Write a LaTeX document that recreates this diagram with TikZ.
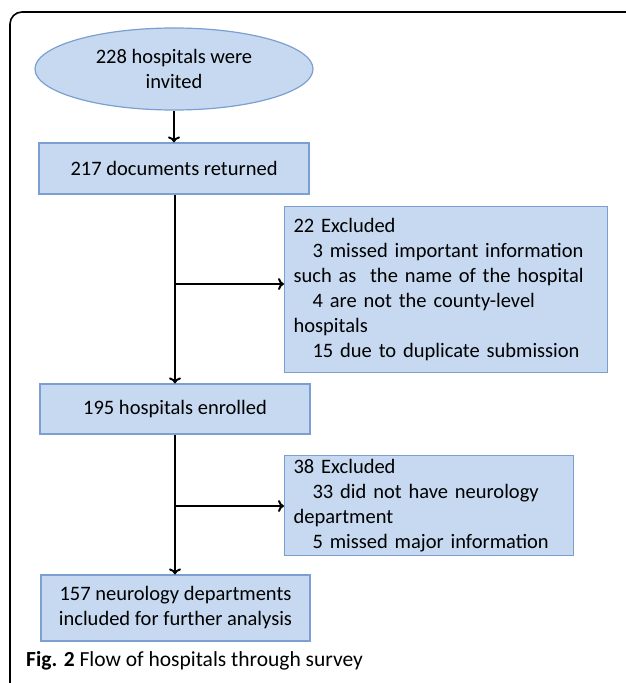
\documentclass[tikz,border=0pt]{standalone}
\usepackage{fontspec}
\setmainfont{Carlito}
\usetikzlibrary{shapes.geometric,arrows.meta}
\definecolor{boxfill}{HTML}{C6D9F0}
\definecolor{boxline}{HTML}{7A9FD0}
\begin{document}
\begin{tikzpicture}[x=1pt,y=-1pt,
  txt/.style={font=\fontsize{20.5}{25}\selectfont},
  flowbox/.style={txt,draw=boxline,fill=boxfill,line width=1.2pt,inner sep=0pt,align=center},
  sidebox/.style={txt,draw=boxline,fill=boxfill,line width=1.2pt,inner xsep=9pt,inner ysep=0pt,align=left,anchor=north west},
  conn/.style={line width=2.2pt,-{To[length=6pt,width=12pt,line width=2pt]}}]
\useasboundingbox (0,0) rectangle (625,683);
% outer frame
\draw[line width=1.6pt,rounded corners=12pt] (10,684) -- (10,12) -- (626,12);
% nodes
\node[ellipse,draw=boxline,fill=boxfill,line width=1.2pt,minimum width=278pt,minimum height=82pt,inner sep=0pt,align=center,txt] (inv) at (174,69) {228 hospitals were\\invited};
\node[flowbox,minimum width=270pt,minimum height=51pt] (ret) at (174,168.5) {217 documents returned};
\node[sidebox,text width=305pt,minimum height=166pt] (ex1) at (284,206) {22 Excluded\\
\hspace*{19pt}3 missed important information\\
such as\ \ the name of the hospital\\
\hspace*{19pt}4 are not the county-level\\
hospitals\\
\hspace*{19pt}15 due to duplicate submission};
\node[flowbox,minimum width=270pt,minimum height=50pt] (enr) at (175,409) {195 hospitals enrolled};
\node[sidebox,text width=271pt,minimum height=100pt] (ex2) at (284,455) {38 Excluded\\
\hspace*{19pt}33 did not have neurology\\
department\\
\hspace*{19pt}5 missed major information};
\node[flowbox,minimum width=269pt,minimum height=66pt] (inc) at (175.5,608) {157 neurology departments\\included for further analysis};
\node[anchor=west,font=\fontsize{21.5}{25}\selectfont,inner sep=0pt] (cap) at (26,661) {\textbf{Fig. 2} Flow of hospitals through survey};
% connectors
\coordinate (b1) at (175,284);
\coordinate (b2) at (175,506);
\draw[conn] (inv.south) -- (ret.north);
\draw[conn] (ret.south -| b1) -- (enr.north -| b1);
\draw[conn] (b1) -- (ex1.west |- b1);
\draw[conn] (enr.south -| b2) -- (inc.north -| b2);
\draw[conn] (b2) -- (ex2.west |- b2);
\end{tikzpicture}
\end{document}
